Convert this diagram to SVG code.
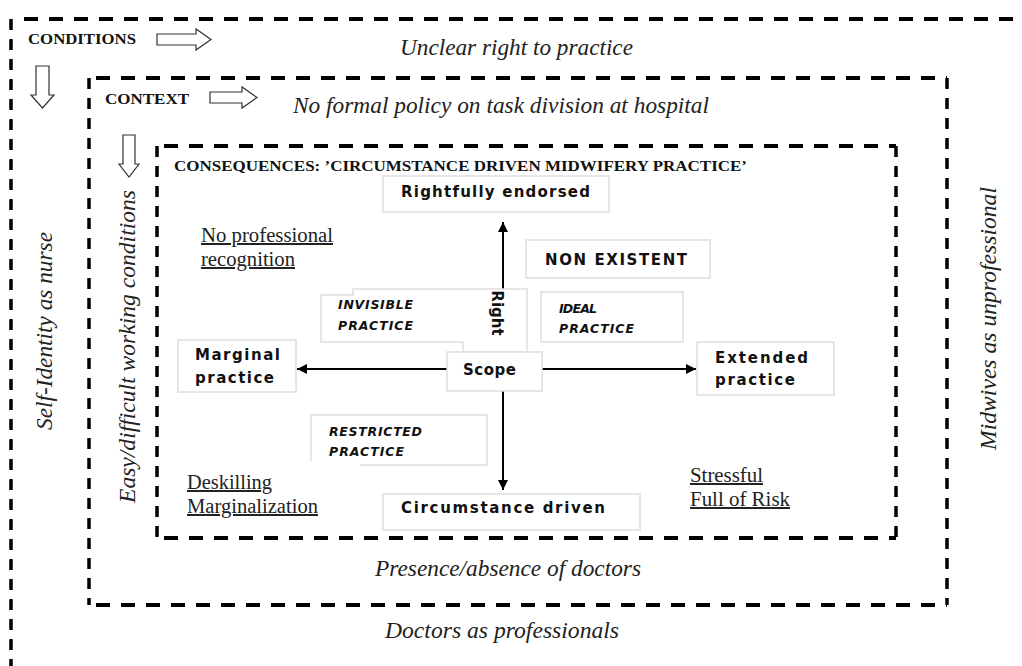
<svg xmlns="http://www.w3.org/2000/svg" width="1022" height="666" viewBox="0 0 1022 666">
  <defs>
    <marker id="head" viewBox="0 0 10 10" refX="10" refY="5" markerWidth="10" markerHeight="10" markerUnits="userSpaceOnUse" orient="auto">
      <path d="M0,0 L10,5 L0,10 z" fill="#000"/>
    </marker>
    <style>
      .dh { fill: none; stroke: #000; stroke-width: 4; stroke-dasharray: 14 11; }
      .dv { fill: none; stroke: #000; stroke-width: 3.5; stroke-dasharray: 11 9; }
      .hollow { fill: #fff; stroke: #333; stroke-width: 1.2; }
      .cell { fill: #fff; stroke: #dedede; stroke-width: 1.5; }
      .head { font-family: "Liberation Serif", serif; font-weight: bold; font-size: 15px; fill: #111; }
      .it { font-family: "Liberation Serif", serif; font-style: italic; font-size: 22.5px; fill: #222; }
      .ul { font-family: "Liberation Serif", serif; font-size: 20px; fill: #222; text-decoration: underline; }
      .sb { font-family: "DejaVu Sans", sans-serif; font-weight: bold; font-size: 15px; fill: #111; }
      .si { font-family: "DejaVu Sans", sans-serif; font-weight: bold; font-style: italic; font-size: 12.5px; fill: #111; }
      .axis { stroke: #000; stroke-width: 2; fill: none; }
    </style>
  </defs>

  <rect width="1022" height="666" fill="#fff"/>

  <!-- Conditions frame (outermost) -->
  <g id="conditions">
    <path class="dh" d="M24,19 H1015"/>
    <path class="dv" d="M11,19 V666"/>
    <text class="head" x="28" y="44" textLength="108" lengthAdjust="spacingAndGlyphs">CONDITIONS</text>
    <path class="hollow" d="M157,34 H196 V29 L211,39.5 L196,50 V45 H157 z"/>
    <path class="hollow" d="M36,66 H49 V95 H54 L42.5,108 L31,95 H36 z"/>
    <text class="it" x="400" y="55" textLength="233" lengthAdjust="spacingAndGlyphs">Unclear right to practice</text>
    <text class="it" x="385" y="638" textLength="234" lengthAdjust="spacingAndGlyphs">Doctors as professionals</text>
    <text class="it" transform="translate(52,430) rotate(-90)" textLength="198" lengthAdjust="spacingAndGlyphs">Self-Identity as nurse</text>
  </g>

  <!-- Context frame -->
  <g id="context">
    <path class="dh" d="M96,78 H947 M96,605 H947"/>
    <path class="dv" d="M89,78 V605 M947,78 V605"/>
    <text class="head" x="105" y="104" textLength="84" lengthAdjust="spacingAndGlyphs">CONTEXT</text>
    <path class="hollow" d="M210,92 H242 V87 L257,97.5 L242,108 V103 H210 z"/>
    <path class="hollow" d="M123,135 H135 V164 H139 L129,177 L119,164 H123 z"/>
    <text class="it" x="293" y="113" textLength="416" lengthAdjust="spacingAndGlyphs">No formal policy on task division at hospital</text>
    <text class="it" x="375" y="576" textLength="266" lengthAdjust="spacingAndGlyphs">Presence/absence of doctors</text>
    <text class="it" transform="translate(135,503) rotate(-90)" textLength="313" lengthAdjust="spacingAndGlyphs">Easy/difficult working conditions</text>
    <text class="it" transform="translate(996,450) rotate(-90)" textLength="263" lengthAdjust="spacingAndGlyphs">Midwives as unprofessional</text>
  </g>

  <!-- Consequences frame -->
  <g id="consequences">
    <path class="dh" d="M164,146 H896 M164,538 H896"/>
    <path class="dv" d="M157,146 V538 M896,146 V538"/>
    <text class="head" x="174" y="171" font-size="14" textLength="573" lengthAdjust="spacingAndGlyphs">CONSEQUENCES: ’CIRCUMSTANCE DRIVEN MIDWIFERY PRACTICE’</text>
    <text class="ul" x="201" y="242" textLength="132" lengthAdjust="spacingAndGlyphs">No professional</text>
    <text class="ul" x="201" y="266" textLength="94" lengthAdjust="spacingAndGlyphs">recognition</text>
    <text class="ul" x="187" y="489" textLength="85" lengthAdjust="spacingAndGlyphs">Deskilling</text>
    <text class="ul" x="187" y="513" textLength="131" lengthAdjust="spacingAndGlyphs">Marginalization</text>
    <text class="ul" x="690" y="482" textLength="73" lengthAdjust="spacingAndGlyphs">Stressful</text>
    <text class="ul" x="690" y="506" textLength="100" lengthAdjust="spacingAndGlyphs">Full of Risk</text>
  </g>

  <!-- Axes -->
  <g id="connectors">
    <path class="axis" d="M503,352 V222" marker-end="url(#head)"/>
    <path class="axis" d="M503,391 V490" marker-end="url(#head)"/>
    <path class="axis" d="M447,369 H297" marker-end="url(#head)"/>
    <path class="axis" d="M542,369 H696" marker-end="url(#head)"/>
  </g>

  <g id="rightfully-endorsed">
    <rect class="cell" x="383" y="176" width="226" height="36"/>
    <text class="sb" x="401" y="197" textLength="189" lengthAdjust="spacing">Rightfully endorsed</text>
  </g>

  <g id="non-existent">
    <rect class="cell" x="526" y="240" width="184" height="38"/>
    <text class="sb" x="545" y="265" font-size="16.5" textLength="142" lengthAdjust="spacing">NON EXISTENT</text>
  </g>

  <g id="invisible-practice">
    <path class="cell" d="M321,295 H353 V289 H527 V352 H463 V342 H321 z"/>
    <text class="si" x="338" y="309" textLength="75" lengthAdjust="spacing">INVISIBLE</text>
    <text class="si" x="338" y="330" textLength="75" lengthAdjust="spacing">PRACTICE</text>
  </g>

  <g id="right">
    <text class="sb" font-size="11" transform="translate(492,313) rotate(90)" text-anchor="middle">Right</text>
  </g>

  <g id="ideal-practice">
    <rect class="cell" x="541" y="292" width="142" height="50"/>
    <text class="si" x="559" y="313" textLength="38" lengthAdjust="spacing">IDEAL</text>
    <text class="si" x="559" y="333" textLength="75" lengthAdjust="spacing">PRACTICE</text>
  </g>

  <g id="marginal-practice">
    <rect class="cell" x="178" y="340" width="118" height="52"/>
    <text class="sb" x="195" y="360" textLength="85" lengthAdjust="spacing">Marginal</text>
    <text class="sb" x="195" y="383" textLength="79" lengthAdjust="spacing">practice</text>
  </g>

  <g id="scope">
    <rect class="cell" x="447" y="352" width="95" height="39"/>
    <text class="sb" x="463" y="375" textLength="53" lengthAdjust="spacing">Scope</text>
  </g>

  <g id="extended-practice">
    <rect class="cell" x="697" y="342" width="137" height="53"/>
    <text class="sb" x="715" y="363" textLength="93" lengthAdjust="spacing">Extended</text>
    <text class="sb" x="715" y="385" textLength="80" lengthAdjust="spacing">practice</text>
  </g>

  <g id="restricted-practice">
    <path class="cell" d="M311,461 V415 H487 V465 H360"/>
    <text class="si" x="329" y="436" textLength="93" lengthAdjust="spacing">RESTRICTED</text>
    <text class="si" x="329" y="456" textLength="75" lengthAdjust="spacing">PRACTICE</text>
  </g>

  <g id="circumstance-driven">
    <rect class="cell" x="383" y="494" width="257" height="36"/>
    <text class="sb" x="401" y="513" textLength="204" lengthAdjust="spacing">Circumstance driven</text>
  </g>
</svg>
